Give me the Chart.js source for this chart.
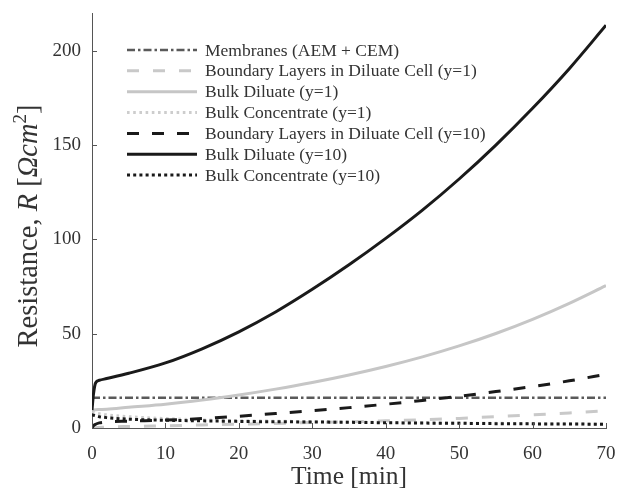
<!DOCTYPE html>
<html><head><meta charset="utf-8">
<script src="https://cdn.jsdelivr.net/npm/chart.js@4/dist/chart.umd.min.js"></script>
<style>html,body{margin:0;padding:0;background:#fff}#wrap{width:619px;height:494px;position:relative}</style>
</head><body><div id="wrap"><canvas id="c"></canvas></div>
<script>
// ---- data ----
const timeMin = [0, 0.2, 0.5, 1, 2, 5, 10, 15, 20, 25, 30, 35, 40, 45, 50, 55, 60, 65, 70];
const membranes      = [16, 16, 16, 16, 16, 16, 16, 16, 16, 16, 16, 16, 16, 16, 16, 16, 16, 16, 16];
const boundaryY1     = [0, 0.1, 0.2, 0.3, 0.5, 0.8, 1.2, 1.6, 2.0, 2.4, 2.9, 3.3, 3.8, 4.4, 5.1, 6.0, 7.0, 8.0, 9.2];
const bulkDiluateY1  = [9.5, 9.6, 9.7, 9.8, 10, 11, 12.6, 14.8, 17.5, 20.6, 24.1, 28.1, 32.6, 37.7, 43.5, 50.1, 57.6, 66.1, 75.5];
const bulkConcY1     = [8.5, 8.3, 8, 7.6, 7, 6, 5, 4.3, 3.9, 3.6, 3.4, 3.2, 3.0, 2.8, 2.6, 2.5, 2.3, 2.2, 2.1];
const boundaryY10    = [0, 1.2, 2, 2.7, 3.2, 3.6, 4.2, 5, 6.2, 7.7, 9.2, 10.8, 12.6, 14.6, 16.8, 19.3, 22, 25, 28.5];
const bulkDiluateY10 = [9.5, 18, 24, 25.3, 26.2, 29, 34.5, 42, 51, 61.5, 73.5, 86.5, 100.5, 115.5, 132, 150, 169.5, 190.5, 213.5];
const bulkConcY10    = [7, 6.8, 6.5, 6, 5.5, 4.7, 4.1, 3.8, 3.5, 3.3, 3.2, 3.0, 2.8, 2.6, 2.5, 2.3, 2.2, 2.1, 2.0];
const seriesLabels = [
  'Membranes (AEM + CEM)',
  'Boundary Layers in Diluate Cell (y=1)',
  'Bulk Diluate (y=1)',
  'Bulk Concentrate (y=1)',
  'Boundary Layers in Diluate Cell (y=10)',
  'Bulk Diluate (y=10)',
  'Bulk Concentrate (y=10)'
];
const xTickValues = [0, 10, 20, 30, 40, 50, 60, 70];
const yTickValues = [0, 50, 100, 150, 200];
const xTitle = 'Time [min]';

// ---- styles ----
const seriesValues = [membranes, boundaryY1, bulkDiluateY1, bulkConcY1, boundaryY10, bulkDiluateY10, bulkConcY10];
const styles = [
  {color:'#5a5a5a', width:2.6, dash:[8,3,2.5,3]},
  {color:'#c9c9c9', width:3, dash:[12,14]},
  {color:'#c6c6c6', width:3, dash:[]},
  {color:'#cdcdcd', width:3, dash:[2.6,3.6]},
  {color:'#1a1a1a', width:3, dash:[12,13]},
  {color:'#1a1a1a', width:3, dash:[]},
  {color:'#1a1a1a', width:3, dash:[3,3.2]}
];
const SERIF = '"Liberation Serif", "DejaVu Serif", serif';
const axisColor = '#555555';
const textColor = '#333333';

const datasets = seriesValues.map((vals, i) => ({
  label: seriesLabels[i],
  data: timeMin.map((t, j) => ({x: t, y: vals[j]})),
  borderColor: styles[i].color,
  borderWidth: styles[i].width,
  borderDash: styles[i].dash,
  borderCapStyle: 'butt',
  pointRadius: 0,
  fill: false,
  cubicInterpolationMode: 'monotone',
  order: seriesValues.length - i
}));

const innerTicks = {
  id: 'innerTicks',
  afterDraw(chart) {
    const {ctx, chartArea:a, scales:{x, y}} = chart;
    ctx.save();
    ctx.strokeStyle = axisColor; ctx.lineWidth = 1;
    ctx.beginPath();
    xTickValues.forEach(v => { const px = Math.round(x.getPixelForValue(v)) + 0.5; ctx.moveTo(px, a.bottom); ctx.lineTo(px, a.bottom - 5); });
    yTickValues.forEach(v => { const py = Math.round(y.getPixelForValue(v)) + 0.5; ctx.moveTo(a.left, py); ctx.lineTo(a.left + 5, py); });
    ctx.stroke();
    ctx.restore();
  }
};

const customLegend = {
  id: 'customLegend',
  afterDraw(chart) {
    const ctx = chart.ctx;
    ctx.save();
    ctx.font = '17.5px ' + SERIF;
    ctx.textBaseline = 'middle';
    ctx.fillStyle = textColor;
    chart.data.datasets.forEach((ds, i) => {
      const yy = 50 + i * 20.85;
      ctx.strokeStyle = ds.borderColor;
      ctx.lineWidth = ds.borderWidth;
      ctx.setLineDash(ds.borderDash);
      ctx.lineCap = 'butt';
      ctx.beginPath(); ctx.moveTo(127, yy); ctx.lineTo(197, yy); ctx.stroke();
      ctx.setLineDash([]);
      ctx.fillText(ds.label, 205, yy + 1);
    });
    ctx.restore();
  }
};

const yTitle = {
  id: 'yTitle',
  afterDraw(chart) {
    const ctx = chart.ctx;
    const S = 28.5;
    const parts = [
      {t:'Resistance, ', f:S + 'px ' + SERIF, dy:0},
      {t:'R', f:'italic ' + S + 'px ' + SERIF, dy:0},
      {t:' [', f:S + 'px ' + SERIF, dy:0},
      {t:'Ωcm', f:'italic ' + S + 'px ' + SERIF, dy:0},
      {t:'2', f:'19px ' + SERIF, dy:-11},
      {t:']', f:S + 'px ' + SERIF, dy:0}
    ];
    ctx.save();
    let total = 0;
    parts.forEach(p => { ctx.font = p.f; p.w = ctx.measureText(p.t).width; total += p.w; });
    ctx.translate(37, 226);
    ctx.rotate(-Math.PI / 2);
    ctx.fillStyle = textColor;
    ctx.textBaseline = 'alphabetic';
    let xx = -total / 2;
    parts.forEach(p => { ctx.font = p.f; ctx.fillText(p.t, xx, p.dy); xx += p.w; });
    ctx.restore();
  }
};

new Chart(document.getElementById('c'), {
  type: 'line',
  data: { datasets },
  options: {
    responsive: true,
    maintainAspectRatio: false,
    animation: false,
    events: [],
    layout: { padding: { left: 0, right: 13, top: 13, bottom: 0 } },
    plugins: { legend: { display: false }, tooltip: { enabled: false } },
    scales: {
      x: {
        type: 'linear', min: 0, max: 70,
        afterFit(s) { s.height = 66; s.paddingLeft = 0; s.paddingRight = 0; },
        afterBuildTicks(s) { s.ticks = xTickValues.map(v => ({value: v})); },
        grid: { display: false, drawTicks: false },
        border: { display: true, color: axisColor, width: 1 },
        ticks: { padding: 15, color: textColor, font: { family: SERIF, size: 19 }, maxRotation: 0 },
        title: { display: true, text: xTitle, color: textColor, font: { family: SERIF, size: 25.5 }, padding: { top: 0, bottom: 1 } }
      },
      y: {
        type: 'linear', min: 0, max: 220,
        afterFit(s) { s.width = 92; s.paddingTop = 0; s.paddingBottom = 0; },
        afterBuildTicks(s) { s.ticks = yTickValues.map(v => ({value: v})); },
        grid: { display: false, drawTicks: false },
        border: { display: true, color: axisColor, width: 1 },
        ticks: { padding: 11, color: textColor, font: { family: SERIF, size: 19 } }
      }
    }
  },
  plugins: [innerTicks, customLegend, yTitle]
});
</script>
</body></html>
